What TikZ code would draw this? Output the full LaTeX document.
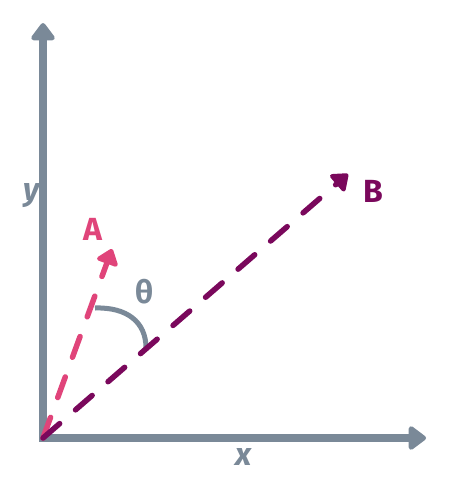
\documentclass[tikz,border=0pt]{standalone}
\usepackage{fontspec}
\setmainfont{Fira Sans}
\usetikzlibrary{arrows.meta}
\definecolor{axisgray}{RGB}{122,137,152}
\definecolor{vecpink}{RGB}{224,68,122}
\definecolor{vecpurple}{RGB}{122,8,92}
\tikzset{
    axis/.style={line width=7.5pt, axisgray, line join=miter,
        {Triangle[width=27pt,length=19pt,round]}-{Triangle[width=27pt,length=19pt,round]}},
    vec/.style={line width=5.5pt, line cap=round, dash pattern=on 22pt off 21pt,
        -{Triangle[width=25pt,length=17pt,round]}},
    lbl/.style={font=\fontsize{32}{36}\selectfont\bfseries, anchor=base, inner sep=0pt},
}

\begin{document}
\begin{tikzpicture}[x=1pt, y=-1pt]
        \useasboundingbox (0,0) rectangle (448,493);
        % Points
        \coordinate (O) at (43,438);
        \coordinate (yend) at (43,23);
        \coordinate (xend) at (426,438);
        \coordinate (Atip) at (112,249);
        \coordinate (Btip) at (348,174);
        \coordinate (arcA) at (95,308);
        \coordinate (arcB) at (146,348);
        
        % Axis labels (under the axes)
        \node[lbl, axisgray, font=\fontsize{32}{36}\selectfont\bfseries\itshape] (ylab) at (32,200) {y};
        \node[lbl, axisgray, font=\fontsize{32}{36}\selectfont\bfseries\itshape] (xlab) at (244,465) {x};
        
        % Axes
        \draw[axis] (yend) -- (O) -- (xend);
        
        % Angle between the vectors
        \draw[line width=5pt, axisgray] (arcA) .. controls (127,307) and (146,322) .. (arcB);
        \node[lbl, axisgray] (theta) at (145,303) {θ};
        
        % Vectors
        \draw[vec, vecpink] (O) -- (Atip);
        \draw[vec, vecpurple] (O) -- (Btip);
        \node[lbl, vecpink] (Alab) at (93,240) {A};
        \node[lbl, vecpurple] (Blab) at (373,202) {B};
    \end{tikzpicture}
\end{document}
